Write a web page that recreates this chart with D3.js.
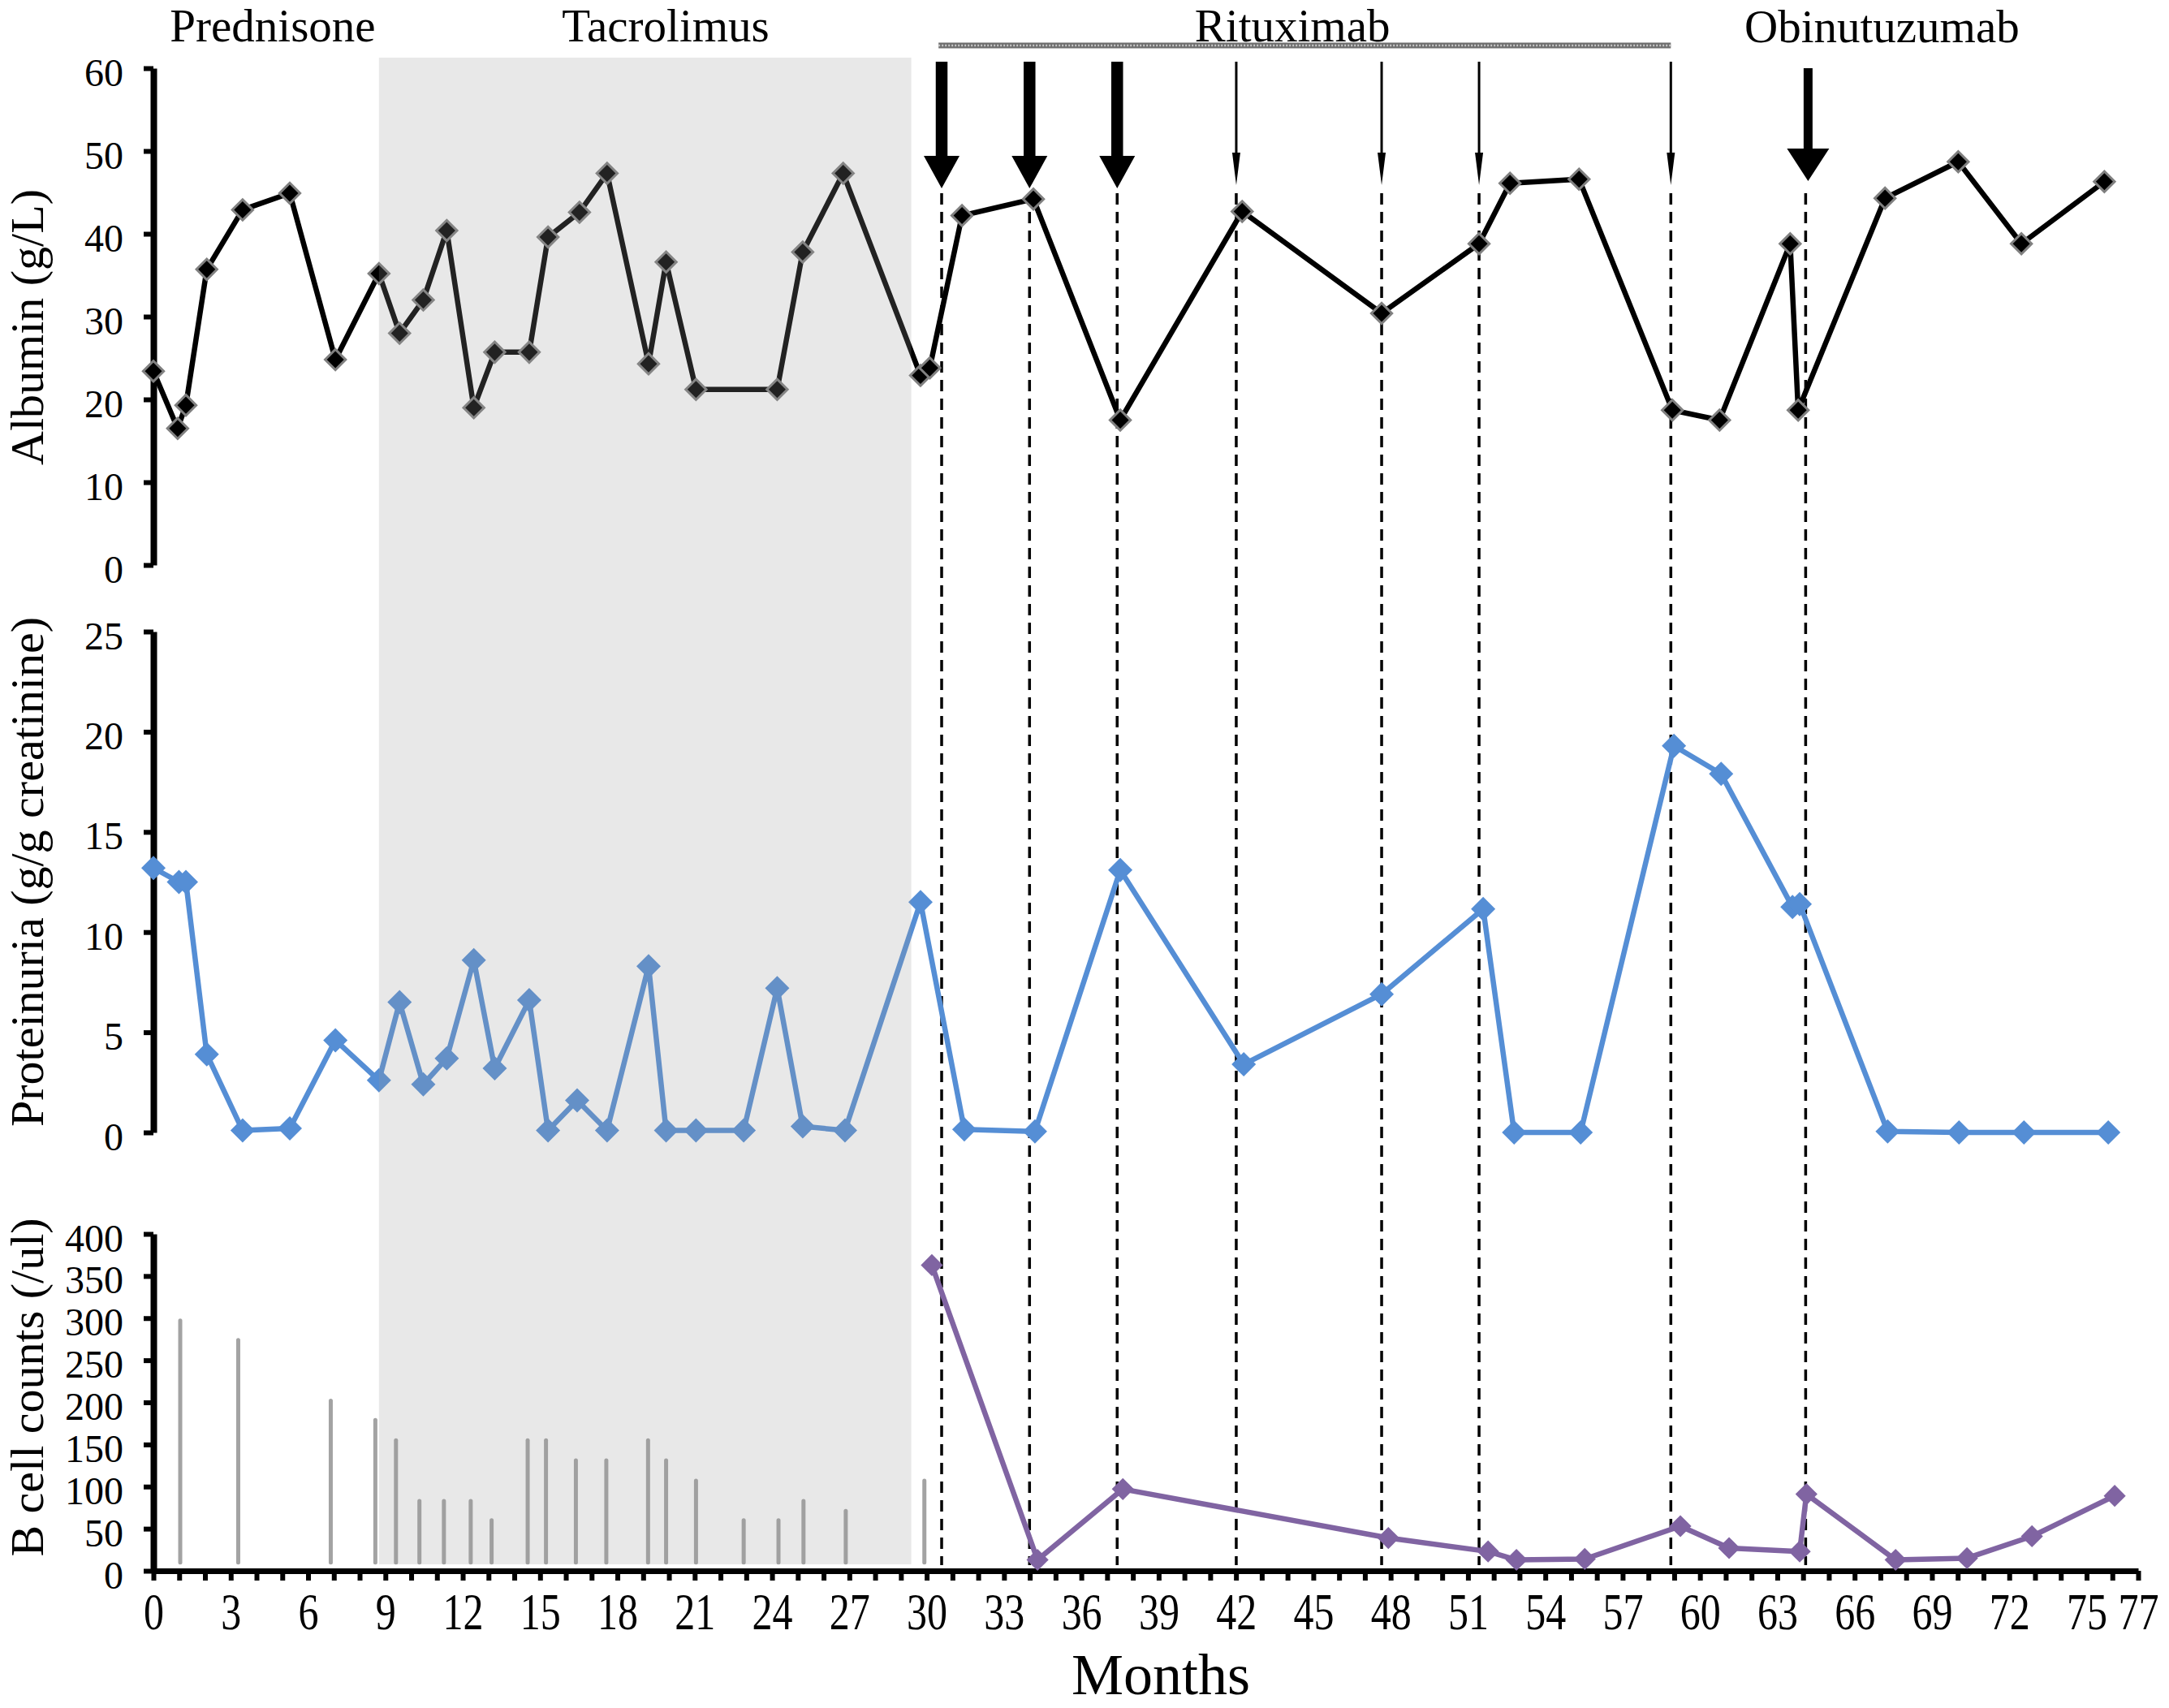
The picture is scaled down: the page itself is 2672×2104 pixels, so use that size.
<!DOCTYPE html>
<html>
<head>
<meta charset="utf-8">
<script src="https://cdn.jsdelivr.net/npm/d3@7"></script>
<style>
  body { margin: 0; background: #fff; }
  svg { display: block; }
</style>
</head>
<body>
<div id="chart"></div>
<script>
// albumin (g/L)
const albMonths = [0, 0.94, 1.26, 2.07, 3.46, 5.29, 7.06, 8.75, 9.55, 10.47, 11.38, 12.43, 13.24, 14.58, 15.31, 16.53, 17.6, 19.21, 19.89, 21.05,
  24.2, 25.19, 26.76, 29.76, 30.12, 31.37, 34.14, 37.51, 42.24, 47.65, 51.43, 52.63, 55.31, 58.93, 60.76, 63.5, 63.81, 67.18, 70.02, 72.47, 75.69];
const albValues = [23.4, 16.5, 19.3, 35.7, 42.9, 44.9, 24.8, 35.2, 28.0, 32.0, 40.4, 19.0, 25.7, 25.7, 39.6, 42.6, 47.3, 24.3, 36.6, 21.2,
  21.2, 37.8, 47.3, 22.9, 23.8, 42.2, 44.2, 17.5, 42.7, 30.4, 38.8, 46.1, 46.6, 18.7, 17.5, 38.8, 18.7, 44.3, 48.7, 38.8, 46.3];

// proteinuria (g/g creatinine)
const protMonths = [0, 0.99, 1.26, 2.07, 3.46, 5.29, 7.06, 8.75, 9.55, 10.47, 11.38, 12.43, 13.24, 14.58, 15.31, 16.44, 17.6, 19.21, 19.89, 21.05,
  22.9, 24.2, 25.19, 26.83, 29.76, 31.46, 34.2, 37.51, 42.3, 47.65, 51.59, 52.79, 55.37, 58.99, 60.82, 63.59, 63.87, 67.28, 70.05, 72.57, 75.84];
const protValues = [13.2, 12.5, 12.5, 3.9, 0.1, 0.2, 4.6, 2.6, 6.5, 2.4, 3.7, 8.6, 3.2, 6.6, 0.1, 1.6, 0.1, 8.3, 0.1, 0.1,
  0.1, 7.2, 0.3, 0.1, 11.5, 0.15, 0.05, 13.1, 3.4, 6.9, 11.15, 0, 0, 19.3, 17.9, 11.25, 11.4, 0.05, 0, 0, 0];

// B cell counts (/ul): gray stems before rituximab, purple line after
const stemMonths = [1.04, 3.29, 6.88, 8.61, 9.41, 10.32, 11.27, 12.31, 13.12, 14.52, 15.23, 16.39, 17.57, 19.19, 19.89, 21.05, 22.9, 24.25, 25.22, 26.86, 29.91];
const stemValues = [297, 274, 202, 179, 155, 83, 83, 83, 60, 155, 155, 131, 131, 155, 131, 107, 60, 60, 83, 71, 107];
const bcellMonths = [30.2, 34.3, 37.61, 47.91, 51.78, 52.88, 55.53, 59.24, 61.13, 63.87, 64.13, 67.59, 70.36, 72.88, 76.09];
const bcellValues = [363, 13, 97, 39, 23, 13, 14, 53, 27, 23, 91, 13, 15, 41, 89];

// treatments
const phaseNames = ["Prednisone", "Tacrolimus", "Rituximab", "Obinutuzumab"];
const phaseLabelMonths = [4.63, 19.87, 44.19, 67.06];
const tacrolimusSpan = [8.75, 29.4];
const rituximabSpan = [30.46, 58.87];
const rituximabMajor = [30.58, 33.99, 37.39];
const rituximabMinor = [42.01, 47.65, 51.43, 58.87];
const obinutuzumabDoses = [64.1];

// ticks
const monthLabels = [0, 3, 6, 9, 12, 15, 18, 21, 24, 27, 30, 33, 36, 39, 42, 45, 48, 51, 54, 57, 60, 63, 66, 69, 72, 75, 77];
const albTicks = [0, 10, 20, 30, 40, 50, 60];
const protTicks = [0, 5, 10, 15, 20, 25];
const bcellTicks = [0, 50, 100, 150, 200, 250, 300, 350, 400];

const width = 2672;
const height = 2104;
const serif = '"Liberation Serif", "Times New Roman", serif';

const svg = d3.select('#chart')
  .append('svg')
  .attr('width', width)
  .attr('height', height)
  .attr('viewBox', `0 0 ${width} ${height}`)
  .style('font-family', serif);

const x = d3.scaleLinear().domain([0, 77]).range([189, 2634]);
const yAlb = d3.scaleLinear().domain([0, 60]).range([696, 84]);
const yProt = d3.scaleLinear().domain([0, 25]).range([1395, 778]);
const yB = d3.scaleLinear().domain([0, 400]).range([1935, 1520]);

const zip = (a, b) => a.map((d, i) => [d, b[i]]);

// y axes
const leftAxis = (scale, ticks) => g => {
  g.call(d3.axisLeft(scale).tickValues(ticks).tickSize(12).tickSizeOuter(0).tickPadding(25))
    .attr('font-family', serif)
    .attr('font-size', 48);
  g.select('.domain').attr('stroke', '#000').attr('stroke-width', 8);
  g.selectAll('.tick line').attr('stroke', '#000').attr('stroke-width', 6);
  g.selectAll('.tick text').attr('fill', '#000').attr('dy', 21);
};

svg.append('g').attr('transform', `translate(${x(0)},0)`).call(leftAxis(yAlb, albTicks));
svg.append('g').attr('transform', `translate(${x(0)},0)`).call(leftAxis(yProt, protTicks));
svg.append('g').attr('transform', `translate(${x(0)},0)`).call(leftAxis(yB, bcellTicks));

// x axis, a tick every month
const xAxis = svg.append('g')
  .attr('transform', `translate(0,${yB(0)})`)
  .call(d3.axisBottom(x)
    .tickValues(d3.range(0, 78))
    .tickSize(12)
    .tickSizeOuter(0)
    .tickFormat(d => monthLabels.includes(d) ? d : ''))
  .attr('font-family', serif)
  .attr('font-size', 50);
xAxis.select('.domain').attr('stroke', '#000').attr('stroke-width', 7);
xAxis.selectAll('.tick line').attr('stroke', '#000').attr('stroke-width', 6);
xAxis.selectAll('.tick text')
  .attr('fill', '#000')
  .attr('y', 56.5)
  .attr('dy', 0)
  .attr('transform', 'scale(1,1.27)');

// axis titles
const yTitles = [
  {text: 'Albumin (g/L)', x: 53, y: 403},
  {text: 'Proteinuria (g/g creatinine)', x: 53, y: 1074},
  {text: 'B cell counts (/ul)', x: 53, y: 1709}
];
svg.selectAll('.ytitle')
  .data(yTitles)
  .join('text')
  .attr('class', 'ytitle')
  .attr('transform', d => `translate(${d.x},${d.y}) rotate(-90)`)
  .attr('text-anchor', 'middle')
  .attr('font-size', 58)
  .text(d => d.text);

svg.append('text')
  .attr('x', 1430)
  .attr('y', 2087)
  .attr('text-anchor', 'middle')
  .attr('font-size', 72)
  .text('Months');

// dashed guide lines at every infusion
const infusions = [...rituximabMajor, ...rituximabMinor, ...obinutuzumabDoses];
svg.selectAll('.guide')
  .data(infusions)
  .join('line')
  .attr('class', 'guide')
  .attr('x1', d => x(d))
  .attr('x2', d => x(d))
  .attr('y1', 238)
  .attr('y2', 1928)
  .attr('stroke', '#000')
  .attr('stroke-width', 3.5)
  .attr('stroke-dasharray', '14,9');

// B cell stems
svg.selectAll('.stem')
  .data(zip(stemMonths, stemValues))
  .join('line')
  .attr('class', 'stem')
  .attr('x1', d => x(d[0]))
  .attr('x2', d => x(d[0]))
  .attr('y1', yB(10))
  .attr('y2', d => yB(d[1]))
  .attr('stroke', '#a3a3a3')
  .attr('stroke-width', 5)
  .attr('stroke-linecap', 'round');

const drawSeries = (months, values, y, color, markerSize, markerStroke) => {
  const pts = zip(months, values);
  svg.append('path')
    .datum(pts)
    .attr('fill', 'none')
    .attr('stroke', color)
    .attr('stroke-width', 6.5)
    .attr('stroke-linejoin', 'round')
    .attr('d', d3.line().x(d => x(d[0])).y(d => y(d[1])));
  svg.append('g')
    .selectAll('path')
    .data(pts)
    .join('path')
    .attr('transform', d => `translate(${x(d[0])},${y(d[1])}) rotate(45)`)
    .attr('d', d3.symbol(d3.symbolSquare, markerSize))
    .attr('fill', color)
    .attr('stroke', markerStroke || 'none')
    .attr('stroke-width', markerStroke ? 3 : 0);
};

drawSeries(albMonths, albValues, yAlb, '#000', 320, '#808080');
drawSeries(protMonths, protValues, yProt, '#558ed5', 450);
drawSeries(bcellMonths, bcellValues, yB, '#8064a2', 370);

// tacrolimus period, a light veil over everything beneath
svg.append('rect')
  .attr('x', x(tacrolimusSpan[0]))
  .attr('y', 71)
  .attr('width', x(tacrolimusSpan[1]) - x(tacrolimusSpan[0]))
  .attr('height', 1927 - 71)
  .attr('fill', 'rgb(152,152,152)')
  .attr('fill-opacity', 0.224);

// rituximab period bar
svg.append('line')
  .attr('x1', x(rituximabSpan[0])).attr('x2', x(rituximabSpan[1]))
  .attr('y1', 56).attr('y2', 56)
  .attr('stroke', '#6e6e6e')
  .attr('stroke-width', 7);
svg.append('line')
  .attr('x1', x(rituximabSpan[0])).attr('x2', x(rituximabSpan[1]))
  .attr('y1', 56).attr('y2', 56)
  .attr('stroke', '#c8c8c8')
  .attr('stroke-width', 2.5)
  .attr('stroke-dasharray', '2,2');

// infusion arrows
const arrow = (cx, a) => {
  const s = a.shaft / 2, h = a.head / 2;
  return `M${cx - s},${a.top}H${cx + s}V${a.base}H${cx + h}L${cx},${a.tip}L${cx - h},${a.base}H${cx - s}Z`;
};
const thick = {top: 76, base: 192, tip: 232, shaft: 14.5, head: 44};
const thin = {top: 76, base: 188, tip: 228, shaft: 3, head: 10};
const obin = {top: 84, base: 183, tip: 223, shaft: 11, head: 52};

svg.selectAll('.arrow-major')
  .data(rituximabMajor)
  .join('path')
  .attr('class', 'arrow-major')
  .attr('d', d => arrow(x(d), thick))
  .attr('fill', '#000');
svg.selectAll('.arrow-minor')
  .data(rituximabMinor)
  .join('path')
  .attr('class', 'arrow-minor')
  .attr('d', d => arrow(x(d), thin))
  .attr('fill', '#000');
svg.selectAll('.arrow-obin')
  .data(obinutuzumabDoses)
  .join('path')
  .attr('class', 'arrow-obin')
  .attr('d', d => arrow(x(d) + 3, obin))
  .attr('fill', '#000');

// treatment names
svg.selectAll('.phase')
  .data(phaseNames)
  .join('text')
  .attr('class', 'phase')
  .attr('x', (d, i) => x(phaseLabelMonths[i]))
  .attr('y', (d, i) => i === 3 ? 52 : 51)
  .attr('text-anchor', 'middle')
  .attr('font-size', 57)
  .text(d => d);
</script>
</body>
</html>
